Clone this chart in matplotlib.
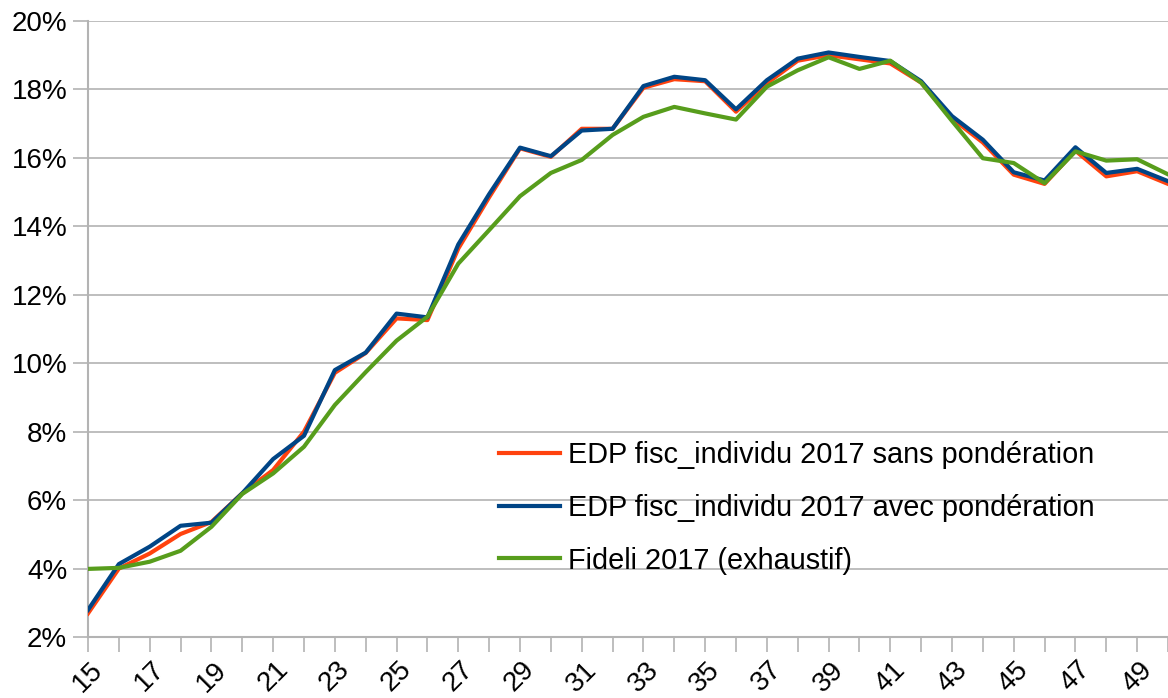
import numpy as np
import matplotlib.pyplot as plt
from matplotlib.ticker import FuncFormatter

plt.rcParams['font.family'] = ['Liberation Sans', 'DejaVu Sans']

ages = list(range(15, 51))

sans_pond = [2.69, 4.00, 4.44, 5.01, 5.36, 6.20, 6.88, 8.00, 9.72, 10.30,
             11.31, 11.26, 13.35, 14.85, 16.28, 16.03, 16.85, 16.85, 18.05, 18.30,
             18.24, 17.35, 18.18, 18.84, 19.00, 18.88, 18.76, 18.20, 17.15, 16.45,
             15.51, 15.24, 16.21, 15.46, 15.61, 15.24]

avec_pond = [2.79, 4.13, 4.64, 5.25, 5.34, 6.20, 7.20, 7.88, 9.80, 10.31,
             11.45, 11.34, 13.47, 14.94, 16.30, 16.05, 16.80, 16.85, 18.10, 18.37,
             18.27, 17.42, 18.27, 18.90, 19.08, 18.95, 18.83, 18.24, 17.22, 16.53,
             15.58, 15.34, 16.31, 15.56, 15.68, 15.32]

fideli = [3.99, 4.02, 4.20, 4.52, 5.22, 6.18, 6.78, 7.56, 8.78, 9.74,
          10.66, 11.36, 12.91, 13.89, 14.88, 15.56, 15.94, 16.67, 17.20, 17.49,
          17.30, 17.12, 18.08, 18.56, 18.94, 18.60, 18.84, 18.20, 17.08, 15.99,
          15.85, 15.26, 16.19, 15.92, 15.96, 15.52]

labels = ["EDP fisc_individu 2017 sans pondération",
          "EDP fisc_individu 2017 avec pondération",
          "Fideli 2017 (exhaustif)"]
colors = ["#ff420e", "#004586", "#579d1c"]

fig = plt.figure(figsize=(11.68, 6.98), dpi=100)
ax = fig.add_axes([88 / 1168, 61 / 698, 1 - 88 / 1168, (637 - 21) / 698])

ax.plot(ages, sans_pond, color=colors[0], lw=3, label=labels[0], zorder=3)
ax.plot(ages, avec_pond, color=colors[1], lw=3, label=labels[1], zorder=4)
ax.plot(ages, fideli, color=colors[2], lw=3, label=labels[2], zorder=5)

ax.set_xlim(15, 50)
ax.set_ylim(2, 20)
ax.set_yticks(np.arange(2, 21, 2))
ax.yaxis.set_major_formatter(FuncFormatter(lambda v, p: f"{v:.0f}%"))
ax.set_xticks(range(15, 51))
ax.set_xticklabels([str(a) if a % 2 == 1 else "" for a in range(15, 51)],
                   rotation=45, ha='center', va='top')

ax.grid(axis='y', color='#b3b3b3', lw=1.2)
ax.set_axisbelow(True)
for s in ['top', 'right']:
    ax.spines[s].set_visible(False)
for s in ['left', 'bottom']:
    ax.spines[s].set_color('#b3b3b3')
    ax.spines[s].set_linewidth(1.5)
ax.tick_params(axis='both', colors='#b3b3b3', length=11, width=1.2,
               labelcolor='black', labelsize=20)
ax.tick_params(axis='y', pad=4)
ax.tick_params(axis='x', pad=3)

ax.legend(loc='center left', bbox_to_anchor=(499 / 1168, (698 - 508) / 698),
          bbox_transform=fig.transFigure, frameon=False, fontsize=20.8,
          handlelength=2.1, handletextpad=0.3, labelspacing=0.85,
          borderpad=0, borderaxespad=0)

fig.savefig("out.png", dpi=100)
